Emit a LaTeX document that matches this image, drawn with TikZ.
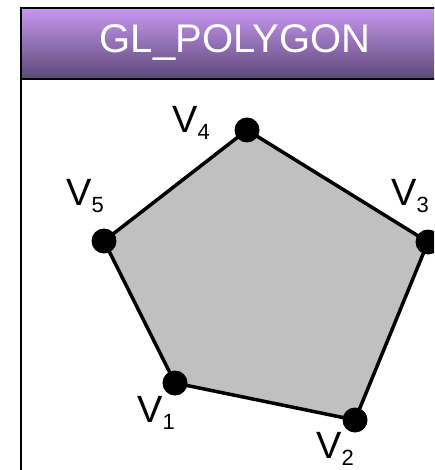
\documentclass[tikz,border=0pt]{standalone}
\usepackage{fontspec}
\setmainfont{Liberation Sans}
\usetikzlibrary{backgrounds}
\definecolor{headtop}{HTML}{C898F0}
\definecolor{headbot}{HTML}{5C4878}
\definecolor{polyfill}{HTML}{C0C0C0}
\tikzset{
  vertex/.style={circle, fill=black, inner sep=0pt, minimum size=25pt},
  vlabel/.style={anchor=base west, inner sep=0pt, font=\fontsize{38}{38}\selectfont},
  edge/.style={draw=black, fill=polyfill, line width=3.5pt, line join=round},
  frame/.style={draw=black, line width=2pt},
  titletext/.style={anchor=base, inner sep=0pt, text=white, font=\fontsize{40}{40}\selectfont}
}
\newcommand{\vname}[1]{V\raisebox{-7pt}{\fontsize{22}{22}\selectfont #1}}

\begin{document}
\begin{tikzpicture}[x=1pt, y=-1pt]
  \useasboundingbox (0,0) rectangle (434,470);
  \clip (0,0) rectangle (434,470);

  % header bar
  \shade[top color=headtop, bottom color=headbot] (21,8) rectangle (450,79);
  \draw[frame] (21,8) rectangle (450,79);
  \draw[frame] (21,79) -- (21,480);
  \node[titletext] (title) at (235,53) {GL\_POLYGON};

  % vertices
  \node[vertex] (v1) at (175,383) {};
  \node[vertex] (v2) at (355,420) {};
  \node[vertex] (v3) at (428,242) {};
  \node[vertex] (v4) at (247,130) {};
  \node[vertex] (v5) at (104,241) {};

  \begin{scope}[on background layer]
    \filldraw[edge] (v1.center) -- (v2.center) -- (v3.center) -- (v4.center) -- (v5.center) -- cycle;
  \end{scope}

  % vertex labels
  \node[vlabel] (l1) at (137,422) {\vname{1}};
  \node[vlabel] (l2) at (316,458) {\vname{2}};
  \node[vlabel] (l3) at (391,205) {\vname{3}};
  \node[vlabel] (l4) at (172,133) {\vname{4}};
  \node[vlabel] (l5) at (66,205) {\vname{5}};
\end{tikzpicture}
\end{document}
